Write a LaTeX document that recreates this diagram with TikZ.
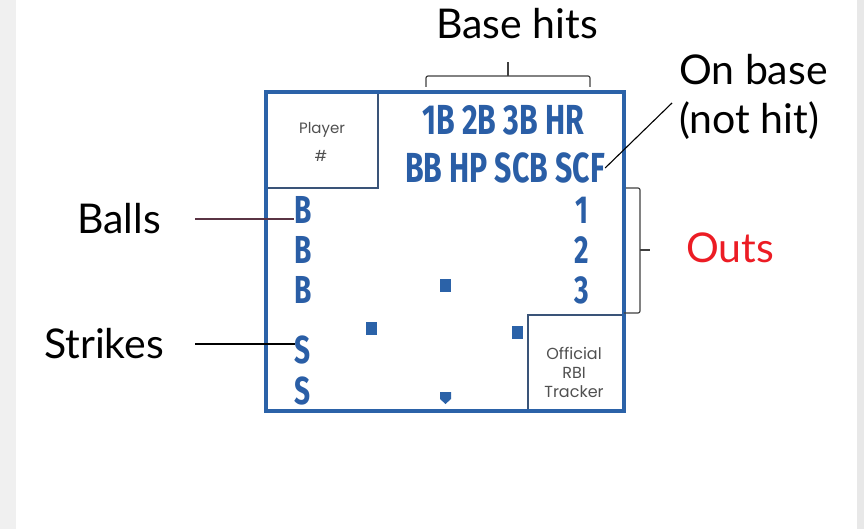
\documentclass[tikz,border=0pt]{standalone}
\usepackage{fontspec}
\setmainfont{Lato}
\newfontfamily\condf[FakeStretch=0.72]{Fira Sans}
\newfontfamily\roundf{Poppins}
\definecolor{boxblue}{HTML}{2B62A8}
\definecolor{txtblue}{HTML}{2A5EA6}
\definecolor{navy}{HTML}{3A5478}
\definecolor{outred}{HTML}{EC1C24}
\definecolor{ballline}{HTML}{5A3444}
\definecolor{smallgray}{HTML}{505050}
\begin{document}
\begin{tikzpicture}[x=1pt,y=-1pt,
  anno/.style={inner sep=0pt,font=\fontsize{41}{44}\selectfont,text=black},
  boxtxt/.style={inner sep=0pt,font=\condf\bfseries\fontsize{42}{42}\selectfont,text=txtblue},
  sidetxt/.style={inner sep=0pt,font=\condf\bfseries\fontsize{39}{39}\selectfont,text=txtblue},
  smalltxt/.style={inner sep=0pt,font=\roundf\fontsize{15}{18}\selectfont,text=smallgray,align=center},
  thinline/.style={draw=navy,line width=1.5pt},
  bracket/.style={draw=black!75,line width=1.2pt}]
\useasboundingbox (0,0) rectangle (864,529);
\fill[white] (0,0) rectangle (864,529);
\fill[black!6] (0,0) rectangle (16,529);
\fill[black!9] (857,0) rectangle (864,529);
% card
\draw[boxblue,line width=4pt] (266,92) rectangle (624,411);
\draw[thinline] (378,94) -- (378,188) -- (268,188);
\draw[thinline] (528,409) -- (528,315) -- (622,315);
% texts in card
\node[smalltxt] (player) at (322,130) {Player};
\node[smalltxt] (hash) at (321,156) {\#};
\node[boxtxt] (hits) at (503,120) {1B 2B 3B HR};
\node[boxtxt] (onb) at (505,168) {BB HP SCB SCF};
\node[sidetxt] (b1) at (303,210) {B};
\node[sidetxt] (b2) at (303,250) {B};
\node[sidetxt] (b3) at (303,290) {B};
\node[sidetxt] (s1) at (303,350) {S};
\node[sidetxt] (s2) at (303,391) {S};
\node[sidetxt] (o1) at (582,210) {1};
\node[sidetxt] (o2) at (582,250) {2};
\node[sidetxt] (o3) at (582,290) {3};
\node[smalltxt,font=\roundf\fontsize{16}{19}\selectfont] (rbi) at (574,372) {Official\\RBI\\Tracker};
% bases
\fill[boxblue] (440,279) rectangle (451,292);
\fill[boxblue] (366,322) rectangle (377,335);
\fill[boxblue] (512,326) rectangle (523,339);
\fill[boxblue] (440,392) -- (451,392) -- (451,399) -- (445.5,404) -- (440,399) -- cycle;
% annotations
\node[anno] (bh) at (517,24) {Base hits};
\node[anno,anchor=west] (ob1) at (679,70) {On base};
\node[anno,anchor=west] (ob2) at (679,121) {(not hit)};
\node[anno,text=outred] (outs) at (730,248) {Outs};
\node[anno] (balls) at (119,219) {Balls};
\node[anno] (strikes) at (104,344) {Strikes};
% brace over hits
\draw[bracket,rounded corners=2pt] (426,87) -- (426,76) -- (590,76) -- (590,87);
\coordinate (bhtip) at (508,62);
\draw[bracket] (508,76) -- (bhtip);
% outs bracket
\draw[bracket,rounded corners=2pt] (626,188) -- (640,188) -- (640,313) -- (624,313);
\coordinate (outtip) at (650,250);
\draw[bracket] (640,250) -- (outtip);
% connectors
\coordinate (obtip) at (672,103);
\draw[black,line width=1.1pt] (onb.east) -- (obtip);
\draw[ballline,line width=1.3pt] ([xshift=34pt]balls.east) -- (balls.east -| b1.west);
\draw[black,line width=1.3pt] ([xshift=31pt]strikes.east) -- (strikes.east -| s1.west);
\end{tikzpicture}
\end{document}
